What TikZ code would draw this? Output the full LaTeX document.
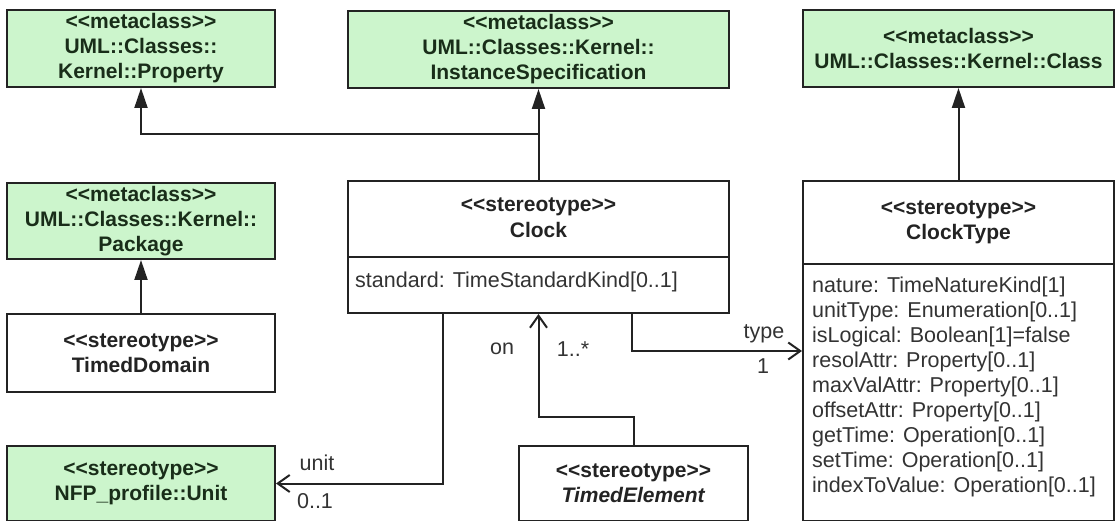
\documentclass[tikz,border=0pt]{standalone}
\usepackage{fontspec}
\setmainfont{Liberation Sans}[Ligatures=TeXOff]
\usetikzlibrary{arrows.meta,calc}
\definecolor{mgreen}{RGB}{204,245,204}
\definecolor{mtext}{RGB}{25,45,25}
\definecolor{lcol}{RGB}{35,35,35}
\begin{document}
\begin{tikzpicture}[x=1pt,y=-1pt,
 box/.style={draw=lcol, line width=2pt, inner sep=0pt, anchor=north west, align=center},
 meta/.style={box, fill=mgreen, text=mtext, font=\bfseries\fontsize{21}{25}\selectfont},
 ster/.style={box, fill=white, text=lcol, font=\bfseries\fontsize{21}{25}\selectfont},
 attr/.style={box, fill=white},
 atxt/.style={anchor=north west, inner sep=0pt, align=left, text=black!80, font=\fontsize{21.5}{25}\selectfont},
 lbl/.style={inner sep=0pt, text=black!80, font=\fontsize{21.5}{25}\selectfont},
 gen/.style={draw=lcol, line width=2pt, -{Triangle[length=20pt,width=13pt]}},
 assoc/.style={draw=lcol, line width=2pt, -{Straight Barb[length=12pt,width=17pt]}}]
\useasboundingbox[fill=white] (0,0) rectangle (1117,521);
% boxes
\node[meta, minimum width=268pt, minimum height=77pt] (prop) at (6,9) {<<metaclass>>\\UML::Classes::\\Kernel::Property};
\node[meta, minimum width=381pt, minimum height=77pt] (inst) at (347,10) {<<metaclass>>\\UML::Classes::Kernel::\\InstanceSpecification};
\node[meta, minimum width=311pt, minimum height=77pt] (cls) at (802,9) {<<metaclass>>\\UML::Classes::Kernel::Class};
\node[meta, minimum width=268pt, minimum height=76pt] (pkg) at (6,182) {<<metaclass>>\\UML::Classes::Kernel::\\Package};
\node[ster, minimum width=268pt, minimum height=78pt] (td) at (6,313) {<<stereotype>>\\TimedDomain};
\node[meta, minimum width=268pt, minimum height=75pt] (unit) at (6,445) {<<stereotype>>\\NFP\_profile::Unit};
\node[ster, minimum width=381pt, minimum height=76pt] (clockH) at (347,180) {\raisebox{4pt}{<<stereotype>>}\\\raisebox{3pt}{Clock}};
\node[attr, minimum width=381pt, minimum height=56pt] (clockA) at (347,256) {};
\node[atxt] (clockT) at (355,272) {standard: TimeStandardKind[0..1]};
\node[ster, minimum width=229pt, minimum height=75pt] (te) at (518,445) {<<stereotype>>\\\textit{TimedElement}};
\node[ster, minimum width=311pt, minimum height=83pt] (ctH) at (802,180) {<<stereotype>>\\ClockType};
\node[attr, minimum width=311pt, minimum height=257pt] (ctA) at (802,263) {};
\node[atxt] (ctT) at (812,277) {nature: TimeNatureKind[1]\\unitType: Enumeration[0..1]\\isLogical: Boolean[1]=false\\resolAttr: Property[0..1]\\maxValAttr: Property[0..1]\\offsetAttr: Property[0..1]\\getTime: Operation[0..1]\\setTime: Operation[0..1]\\indexToValue: Operation[0..1]};
% generalizations
\draw[gen] (clockH.north) -- (inst.south);
\coordinate (j) at (clockH.north |- 0,134);
\draw[gen] (j) -| (prop.south);
\draw[gen] (ctH.north) -- (cls.south);
\draw[gen] (td.north) -- (pkg.south);
% associations
\draw[assoc] ([xshift=96pt]clockA.south west) |- (unit.east);
\node[lbl] (lunit) at (317,463) {unit};
\node[lbl] (lunitm) at (315,501) {0..1};
\draw[assoc] (te.north) -- ++(0,-28) -| (clockA.south);
\node[lbl] (lon) at (502,349) {on};
\node[lbl] (lonm) at (573,349) {1..*};
\coordinate (ctin) at (ctA.west |- 0,351);
\draw[assoc] ([xshift=285pt]clockA.south west) |- (ctin);
\node[lbl] (ltype) at (764,334) {type};
\node[lbl] (ltypem) at (763,366) {1};
\end{tikzpicture}
\end{document}
